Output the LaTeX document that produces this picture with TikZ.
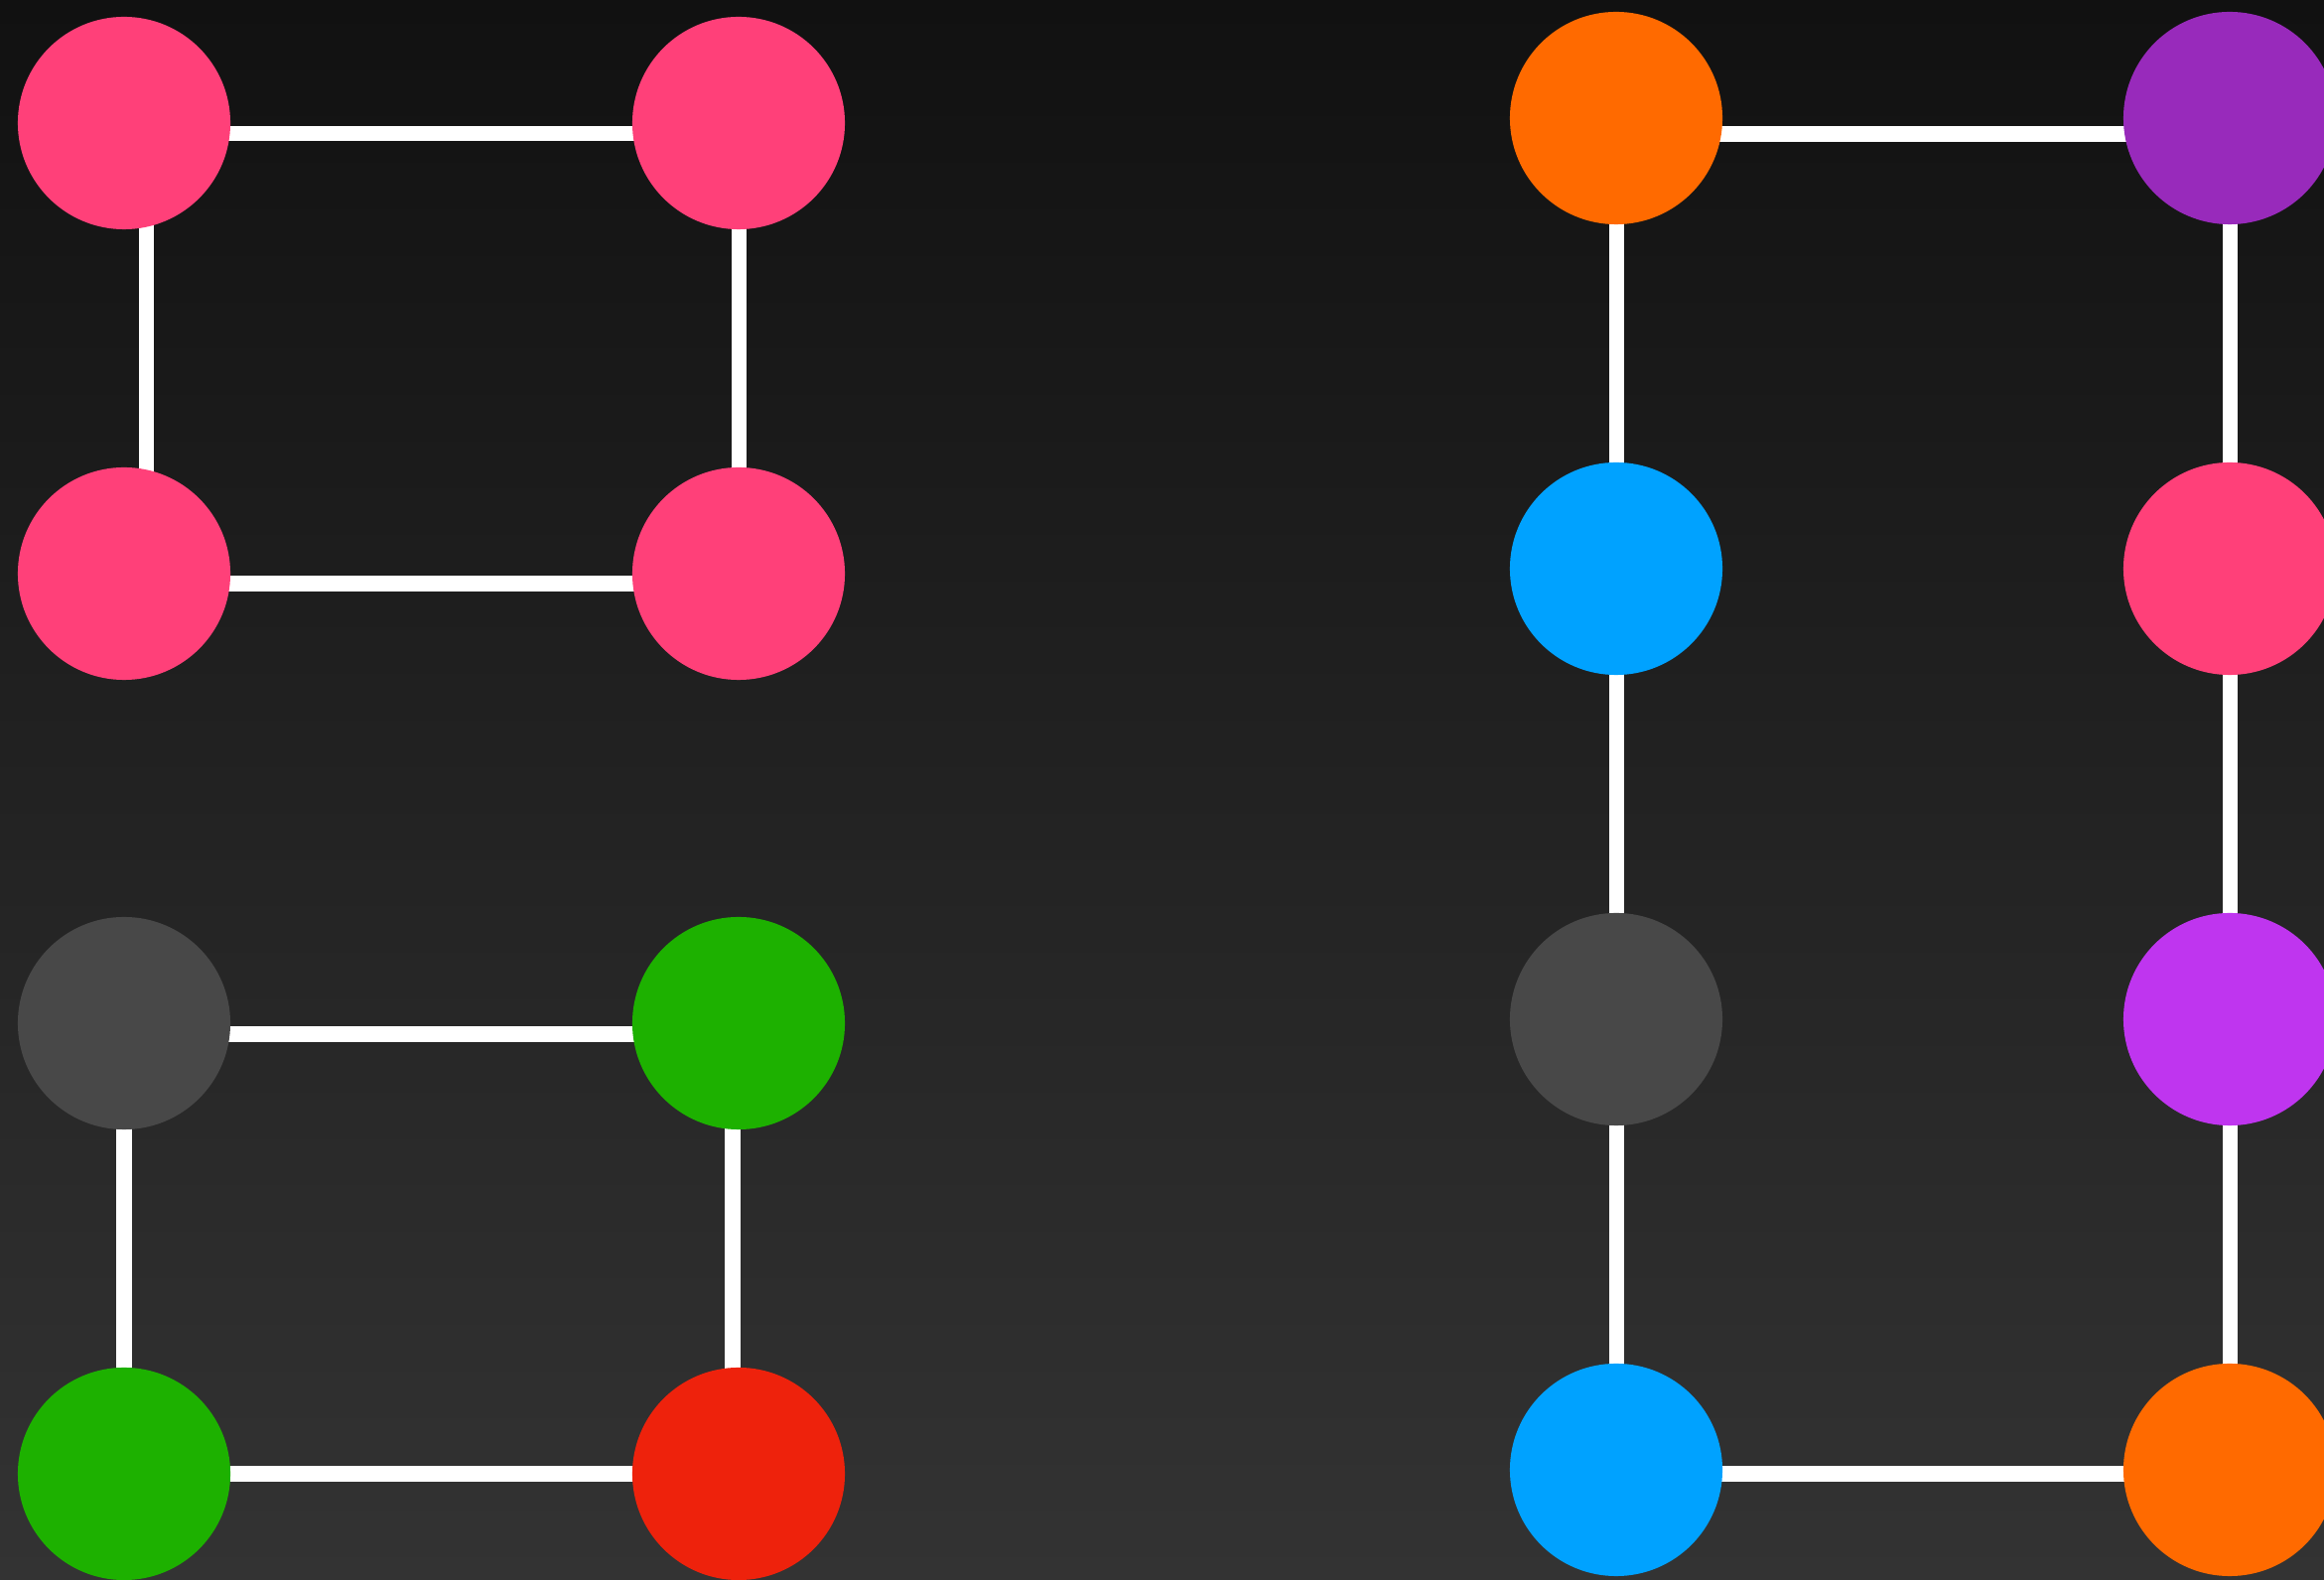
\documentclass[tikz,border=0pt]{standalone}
\pgfdeclarelayer{bg}
\pgfdeclarelayer{edges}
\pgfsetlayers{bg,edges,main}
\definecolor{bgtop}{HTML}{111111}
\definecolor{bgbot}{HTML}{333333}
\definecolor{cpink}{HTML}{FF4079}
\definecolor{corange}{HTML}{FF6A00}
\definecolor{cpurple}{HTML}{982ABB}
\definecolor{cblue}{HTML}{00A2FF}
\definecolor{cmagenta}{HTML}{BF35EF}
\definecolor{cgrey}{HTML}{484848}
\definecolor{cgreen}{HTML}{1DB100}
\definecolor{cred}{HTML}{EE220C}
\begin{document}
\begin{tikzpicture}[x=0.01cm,y=-0.01cm,
  dot/.style={circle,inner sep=0pt,minimum size=2.14cm,draw=none},
  link/.style={draw=white,line width=0.15cm}]
\useasboundingbox (0,0) rectangle (2341,1592);
\begin{pgfonlayer}{bg}
\shade[top color=bgtop,bottom color=bgbot] (0,0) rectangle (2341,1592);
\end{pgfonlayer}
% top-left group
\node[dot,fill=cpink] (a1) at (125,124) {};
\node[dot,fill=cpink] (a2) at (744,124) {};
\node[dot,fill=cpink] (a3) at (125,578) {};
\node[dot,fill=cpink] (a4) at (744,578) {};
% bottom-left group
\node[dot,fill=cgrey] (b1) at (125,1031) {};
\node[dot,fill=cgreen] (b2) at (744,1031) {};
\node[dot,fill=cgreen] (b3) at (125,1485) {};
\node[dot,fill=cred] (b4) at (744,1485) {};
% right group
\node[dot,fill=corange] (r1) at (1628,119) {};
\node[dot,fill=cpurple] (s1) at (2246,119) {};
\node[dot,fill=cblue] (r2) at (1628,573) {};
\node[dot,fill=cpink] (s2) at (2246,573) {};
\node[dot,fill=cgrey] (r3) at (1628,1027) {};
\node[dot,fill=cmagenta] (s3) at (2246,1027) {};
\node[dot,fill=cblue] (r4) at (1628,1481) {};
\node[dot,fill=corange] (s4) at (2246,1481) {};
\begin{pgfonlayer}{edges}
\draw[link] ([yshift=-0.11cm]a1.center) -- ([yshift=-0.11cm]a2.center);
\draw[link] ([xshift=0.22cm]a1.center) -- ([xshift=0.22cm]a3.center);
\draw[link] (a2.center) -- (a4.center);
\draw[link] ([yshift=-0.10cm]a3.center) -- ([yshift=-0.10cm]a4.center);
\draw[link] ([yshift=-0.11cm]b1.center) -- ([yshift=-0.11cm]b2.center);
\draw[link] (b1.center) -- (b3.center);
\draw[link] ([xshift=-0.06cm]b2.center) -- ([xshift=-0.06cm]b4.center);
\draw[link] (b3.center) -- (b4.center);
\draw[link] ([yshift=-0.16cm]r1.center) -- ([yshift=-0.16cm]s1.center);
\draw[link] (r1.center) -- (r2.center);
\draw[link] (r2.center) -- (r3.center);
\draw[link] (r3.center) -- (r4.center);
\draw[link] (s1.center) -- (s2.center);
\draw[link] (s2.center) -- (s3.center);
\draw[link] (s3.center) -- (s4.center);
\draw[link] ([yshift=-0.04cm]r4.center) -- ([yshift=-0.04cm]s4.center);
\end{pgfonlayer}
\end{tikzpicture}
\end{document}
